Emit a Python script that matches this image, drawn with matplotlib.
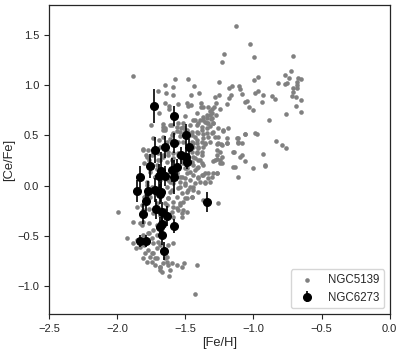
import matplotlib
matplotlib.use("Agg")
import matplotlib.pyplot as plt
import seaborn as sns

# NGC5139 (omega Cen)
fe_5139 = [
    # upper left part
    -1.88, -1.575, -1.48, -1.65, -1.59, -1.70, -1.64, -1.59, -1.65, -1.55, -1.485,
    -1.62, -1.62, -1.69, -1.50, -1.48, -1.75, -1.66, -1.65, -1.665, -1.60, -1.55,
    -1.515, -1.53, -1.50, -1.56, -1.48, -1.60, -1.535, -1.735, -1.69, -1.66, -1.61,
    # upper middle part
    -1.234, -1.437, -1.256, -1.402, -1.16, -1.177, -1.104, -1.097, -0.967, -0.994,
    -0.987, -0.965, -0.933, -0.935, -1.082, -1.165, -1.177, -1.195, -1.251, -1.246,
    -1.28, -1.278, -1.063, -1.045, -1.031, -1.006, -1.383, -1.385, -1.368, -1.461,
    -1.461, -1.332, -1.305, -1.322, -1.29, -1.305, -1.278, -1.32, -1.344, -1.344,
    -1.368, -1.314, -1.356, -1.332, -1.295, -1.393, -1.417, -1.442, -1.417, -1.38,
    -1.344, -1.32, -1.454, -1.405, -1.368, -1.429, -1.332, -1.295, -1.22, -1.258,
    -0.887, -1.063, -0.989, -0.977, -1.111, -1.197,
    # left column
    -1.807, -1.788, -1.734, -1.763, -1.80, -1.746, -1.697, -1.66, -1.624, -1.587,
    -1.551, -1.527, -1.49, -1.563, -1.502, -1.563, -1.527, -1.49, -1.624, -1.587,
    -1.539, -1.502, -1.636, -1.60, -1.551, -1.527, -1.49, -1.563, -1.502, -1.624,
    -1.587, -1.539, -1.636, -1.648, -1.60, -1.563, -1.527, -1.49, -1.685, -1.856,
    -1.99, -1.82, -1.808, -1.763, -1.759, -1.788, -1.746, -1.783, -1.722, -1.685,
    -1.71, -1.673, -1.66, -1.71, -1.739,
    # middle
    -1.454, -1.417, -1.38, -1.356, -1.442, -1.405, -1.368, -1.454, -1.417, -1.38,
    -1.429, -1.393, -1.454, -1.368, -1.405, -1.429, -1.356, -1.38, -1.405, -1.332,
    -1.295, -1.27, -1.32, -1.356, -1.442, -1.454, -1.373, -1.258, -1.27, -1.241,
    -1.197, -1.111, -1.087, -1.27, -1.141, -1.234, -1.087, -0.928, -1.295, -1.27,
    -1.246, -1.063, -1.148, -1.001, -0.916, -1.111,
    # lower left
    -1.881, -1.808, -1.82, -1.763, -1.71, -1.649, -1.93, -1.886, -1.856, -1.861,
    -1.808, -1.763, -1.734, -1.71, -1.746, -1.771, -1.734, -1.697, -1.795, -1.771,
    -1.759, -1.734, -1.71, -1.685, -1.624, -1.587, -1.808, -1.783, -1.746, -1.71,
    -1.685, -1.685, -1.722, -1.66, -1.636, -1.624, -1.60, -1.563, -1.612, -1.617,
    -1.649, -1.832,
    # right part
    -1.025, -0.994, -0.71, -0.727, -0.769, -0.739, -0.671, -0.654, -0.678, -0.822,
    -0.756, -0.766, -0.678, -0.712, -0.683, -0.708, -0.715, -0.688, -0.651, -0.688,
    -0.651, -0.764, -0.864, -0.84, -0.835, -0.791, -0.762, -0.915,
    # isolated ones
    -1.13, -1.215, -1.412, -1.431,
    # dense core, second reading
    -1.514, -1.551, -1.587, -1.636, -1.685, -1.722, -1.771, -1.808, -1.783, -1.746,
    -1.698, -1.661, -1.624, -1.587, -1.551, -1.685, -1.636, -1.60, -1.71, -1.551,
    -1.514, -1.49, -1.465, -1.441, -1.404, -1.367, -1.331, -1.306, -1.27, -1.355,
    -1.392, -1.429, -1.465, -1.502, -1.539, -1.502, -1.539, -1.477, -1.441, -1.404,
    -1.453, -1.49, -1.514, -1.539, -1.587, -1.551, -1.514, -1.587, -1.526, -1.612,
    -1.624, -1.649, -1.612, -1.759, -1.783, -1.722, -1.803, -1.465, -1.416, -1.38,
    -1.441, -1.404, -1.38, -1.416, -1.441, -1.465, -1.245, -1.27, -1.282, -1.245,
    -1.233, -1.147, -1.098, -1.135, -1.404, -1.355, -1.319, -1.257, -1.196,
    -1.465, -1.514, -1.563, -1.612, -1.661, -1.649, -1.587, -1.539, -1.49, -1.453,
    -1.416, -1.38, -1.343, -1.306, -1.282, -1.367, -1.416, -1.441, -1.233, -1.123,
    -1.111, -1.062, -1.404, -1.343, -1.294, -1.367, -1.306, -1.429, -1.257, -1.221,
    -1.184,
    # lower tail, second reading
    -1.832, -1.771, -1.746, -1.722, -1.685, -1.673, -1.526, -1.509, -1.636, -1.803,
]
ce_5139 = [
    1.09, 1.06, 1.06, 1.0, 0.98, 0.94, 0.92, 0.90, 0.82, 0.81, 0.82,
    0.79, 0.76, 0.72, 0.69, 0.79, 0.60, 0.61, 0.57, 0.55, 0.60, 0.62,
    0.62, 0.57, 0.55, 0.54, 0.52, 0.50, 0.49, 0.47, 0.455, 0.48, 0.46,
    1.232, 0.991, 1.027, 0.925, 0.991, 0.971, 0.988, 0.958, 1.083, 1.05,
    0.925, 0.944, 0.898, 0.832, 0.911, 0.905, 0.875, 0.809, 0.898, 0.766,
    0.878, 0.825, 0.829, 0.845, 0.782, 0.752, 0.819, 0.779, 0.779, 0.898,
    0.802, 0.779, 0.766, 0.746, 0.786, 0.726, 0.703, 0.703, 0.703, 0.67,
    0.686, 0.66, 0.637, 0.627, 0.62, 0.653, 0.719, 0.653, 0.604, 0.587,
    0.57, 0.594, 0.537, 0.527, 0.514, 0.488, 0.481, 0.537, 0.547, 0.488,
    0.653, 0.514, 0.527, 0.514, 0.471, 0.471,
    0.361, 0.305, 0.322, 0.255, 0.222, 0.206, 0.255, 0.288, 0.305, 0.272,
    0.322, 0.255, 0.305, 0.206, 0.173, 0.123, 0.09, 0.123, 0.057, 0.024,
    0.04, 0.024, -0.009, -0.042, -0.026, -0.076, -0.059, -0.109, -0.125, -0.125,
    -0.158, -0.175, -0.191, -0.241, -0.258, -0.225, -0.274, -0.258, -0.29, -0.208,
    -0.258, -0.19, -0.241, -0.234, -0.109, -0.092, -0.009, 0.007, 0.09, 0.057,
    0.163, 0.14, -0.059, -0.175, -0.274,
    0.437, 0.421, 0.437, 0.414, 0.388, 0.371, 0.381, 0.338, 0.322, 0.305,
    0.272, 0.255, 0.239, 0.206, 0.189, 0.156, 0.123, 0.106, 0.073, 0.073,
    0.123, 0.123, 0.04, 0.03, -0.009, -0.109, -0.142, -0.175, 0.414, 0.414,
    0.421, 0.437, 0.421, 0.355, 0.338, 0.288, 0.305, 0.315, 0.249, 0.262,
    0.222, 0.245, 0.189, 0.173, 0.196, 0.09,
    -0.357, -0.357, -0.39, -0.373, -0.39, -0.366, -0.522, -0.565, -0.539, -0.621,
    -0.489, -0.472, -0.439, -0.489, -0.522, -0.555, -0.572, -0.555, -0.671, -0.638,
    -0.704, -0.671, -0.621, -0.588, -0.588, -0.572, -0.72, -0.754, -0.754, -0.72,
    -0.803, -0.837, -0.787, -0.77, -0.754, -0.787, -0.77, -0.787, -0.837, -0.896,
    -0.72, -0.605,
    1.408, 1.282, 1.292, 1.136, 1.1, 1.073, 1.073, 1.06, 1.034, 1.024,
    1.024, 1.007, 1.0, 0.974, 0.974, 0.928, 0.888, 0.881, 0.855, 0.795,
    0.732, 0.712, 0.891, 0.861, 0.448, 0.401, 0.375, 0.206,
    1.59, 1.31, -0.787, -1.078,
    0.438, 0.438, 0.421, 0.438, 0.388, 0.371, 0.355, 0.355, 0.289, 0.305,
    0.322, 0.305, 0.338, 0.322, 0.305, 0.256, 0.239, 0.256, 0.206, 0.189,
    0.222, 0.173, 0.14, 0.107, 0.09, 0.107, 0.123, 0.09, 0.123, 0.04,
    0.04, 0.024, 0.057, 0.073, 0.09, 0.007, -0.009, -0.042, -0.042, -0.059,
    -0.109, -0.125, -0.158, -0.191, -0.208, -0.241, -0.241, -0.307, -0.307, -0.059,
    -0.125, -0.175, 0.04, 0.14, 0.04, 0.09, -0.109, -0.009, 0.338, 0.338,
    0.289, 0.256, 0.222, 0.173, 0.206, 0.239, 0.338, 0.305, 0.256, 0.256,
    0.222, 0.338, 0.289, 0.189, 0.388, 0.421, 0.438, 0.421, 0.421,
    0.603, 0.587, 0.587, 0.603, 0.587, 0.553, 0.52, 0.537, 0.553, 0.504,
    0.537, 0.553, 0.52, 0.52, 0.487, 0.471, 0.454, 0.421, 0.404, 0.471,
    0.421, 0.514, 0.62, 0.62, 0.62, 0.653, 0.669, 0.653, 0.57, 0.553,
    0.57,
    -0.374, -0.474, -0.672, -0.722, -0.805, -0.854, -0.805, -0.772, -0.705, -0.589,
]

# NGC6273 with errors on [Ce/Fe]
fe_6273 = [-1.727, -1.585, -1.497, -1.585, -1.47, -1.722, -1.649, -1.531, -1.492,
           -1.487, -1.563, -1.759, -1.597, -1.675, -1.693, -1.651, -1.582, -1.832,
           -1.856, -1.773, -1.722, -1.678, -1.688, -1.79, -1.34, -1.812, -1.717,
           -1.668, -1.634, -1.671, -1.585, -1.688, -1.668, -1.829, -1.79, -1.658]
ce_6273 = [0.788, 0.689, 0.50, 0.42, 0.384, 0.358, 0.387, 0.30, 0.287,
           0.235, 0.182, 0.192, 0.156, 0.15, 0.10, 0.096, 0.09, 0.089,
           -0.053, -0.053, -0.04, -0.063, -0.086, -0.156, -0.166, -0.285, -0.228,
           -0.258, -0.301, -0.381, -0.40, -0.414, -0.493, -0.55, -0.547, -0.646]
err_6273 = [0.17, 0.10, 0.11, 0.10, 0.08, 0.13, 0.11, 0.08, 0.10,
            0.07, 0.08, 0.12, 0.12, 0.18, 0.12, 0.10, 0.17, 0.11,
            0.11, 0.10, 0.12, 0.10, 0.10, 0.10, 0.10, 0.10, 0.10,
            0.10, 0.10, 0.10, 0.07, 0.10, 0.10, 0.06, 0.06, 0.09]

sns.set_style("ticks")
plt.rcParams['font.family'] = ['Liberation Sans', 'DejaVu Sans']

fig = plt.figure(figsize=(4.07, 3.57), dpi=100)
ax = fig.add_axes([0.1204, 0.1204, 0.837, 0.8655])

ax.scatter(fe_5139, ce_5139, s=11, color='gray', linewidths=0, label='NGC5139', zorder=2)
ax.errorbar(fe_6273, ce_6273, yerr=err_6273, fmt='o', color='black', ms=5.5,
            elinewidth=1.2, capsize=0, label='NGC6273', zorder=3)

ax.set_xlim(-2.5, 0.0)
ax.set_ylim(-1.275, 1.795)
ax.set_xticks([-2.5, -2.0, -1.5, -1.0, -0.5, 0.0])
ax.set_yticks([-1.0, -0.5, 0.0, 0.5, 1.0, 1.5])
ax.tick_params(labelsize=8, length=3.5, width=0.8, colors='.15')
ax.set_xlabel("[Fe/H]", fontsize=9.3, labelpad=2)
ax.set_ylabel("[Ce/Fe]", fontsize=9.3, labelpad=1.5)
for sp in ax.spines.values():
    sp.set_linewidth(0.9)

ax.legend(loc='lower right', fontsize=8.3, frameon=True)

fig.savefig("out.png", dpi=100)
